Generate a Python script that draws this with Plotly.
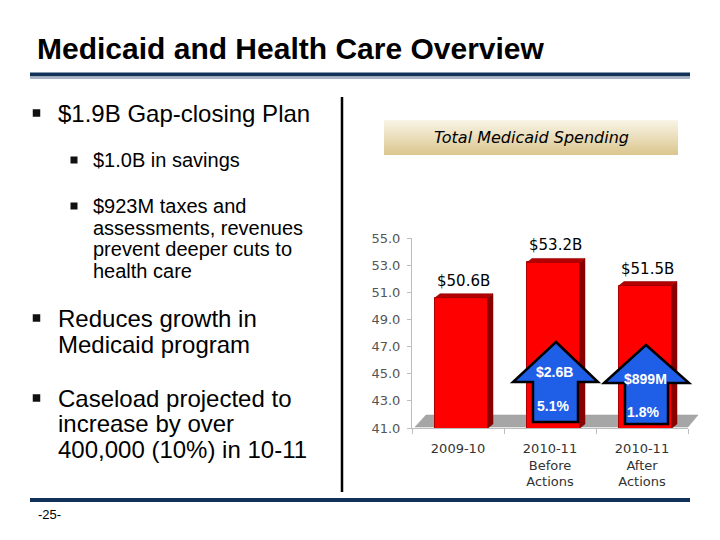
import plotly.graph_objects as go

# ---------------- data ----------------
categories = ["2009-10", "2010-11<br>Before<br>Actions", "2010-11<br>After<br>Actions"]
spending = [50.6, 53.2, 51.5]
bar_labels = ["$50.6B", "$53.2B", "$51.5B"]
y_ticks = [41.0, 43.0, 45.0, 47.0, 49.0, 51.0, 53.0, 55.0]
arrow_top = ["$2.6B", "$899M"]
arrow_bottom = ["5.1%", "1.8%"]

title = "Medicaid and Health Care Overview"
chart_title = "Total Medicaid Spending"

W, H = 720, 540


def px(x):
    return x / W


def py(y):
    return 1 - y / H


fig = go.Figure()

# ---- axes geometry (pixels) ----
X0, X1 = 412, 688      # x axis extent
Y0, Y1 = 428, 238      # y=41 at 428, y=55 at 238
YMIN, YMAX = 41, 55
upx = 92.0             # pixels per category
upy = (Y0 - Y1) / (YMAX - YMIN)

bar_off = -0.25
bar_w = 53 / upx
dx = 5 / upx
dy = 4 / upy

xs = list(range(len(spending)))

fig.add_trace(go.Bar(
    x=xs, y=spending, width=bar_w, offset=bar_off,
    marker=dict(color="#ff0000", line=dict(color="#b00000", width=1)),
    hoverinfo="skip",
))

# 3D side and top faces computed from the data
for i, v in zip(xs, spending):
    xl = i + bar_off
    xr = xl + bar_w
    fig.add_trace(go.Scatter(
        x=[xr, xr, xr + dx, xr + dx, xr], y=[YMIN, v, v + dy, YMIN + dy, YMIN],
        fill="toself", fillcolor="#8a0000", mode="lines",
        line=dict(color="#7a0000", width=0.5), hoverinfo="skip"))
    fig.add_trace(go.Scatter(
        x=[xl, xr, xr + dx, xl + dx, xl], y=[v, v, v + dy, v + dy, v],
        fill="toself", fillcolor="#b30000", mode="lines",
        line=dict(color="#8a0000", width=0.5), hoverinfo="skip"))

annotations = []
for i, v, lab in zip(xs, spending, bar_labels):
    annotations.append(dict(x=i + 0.065, y=v, xref="x", yref="y", text=lab,
                            showarrow=False, yshift=17,
                            font=dict(family="DejaVu Sans", size=15, color="#000")))

fig.update_xaxes(
    domain=[px(X0), px(X1)], range=[-0.5, 2.5], tickmode="array",
    tickvals=xs, ticktext=categories, ticks="", showgrid=False, zeroline=False,
    showline=True, linecolor="#bdbdbd", linewidth=1,
    tickfont=dict(family="DejaVu Sans", size=13, color="#333"),
    ticklabelstandoff=8,
    minor=dict(tickmode="array", tickvals=[-0.5, 0.5, 1.5, 2.5], ticks="outside",
               ticklen=5, tickcolor="#bdbdbd", showgrid=False),
    fixedrange=True, automargin=False,
)
fig.update_yaxes(
    domain=[py(Y0), py(Y1)], range=[YMIN, YMAX], tickmode="array", tickvals=y_ticks,
    tickformat=".1f", ticks="outside", ticklen=4, tickcolor="#bdbdbd",
    showline=True, linecolor="#bdbdbd", linewidth=1, showgrid=False, zeroline=False,
    tickfont=dict(family="DejaVu Sans", size=13, color="#555"),
    ticklabelstandoff=4, fixedrange=True, automargin=False,
)

shapes = []

# title rules
shapes.append(dict(type="rect", xref="paper", yref="paper", x0=px(30), x1=px(690),
                   y0=py(76.5), y1=py(72.5), fillcolor="#11315a", line=dict(width=0), layer="above"))
shapes.append(dict(type="rect", xref="paper", yref="paper", x0=px(30), x1=px(690),
                   y0=py(79), y1=py(76.5), fillcolor="#aab5c3", line=dict(width=0), layer="above"))
# footer rule
shapes.append(dict(type="rect", xref="paper", yref="paper", x0=px(30), x1=px(690),
                   y0=py(502), y1=py(498), fillcolor="#11315a", line=dict(width=0), layer="above"))
# vertical divider
shapes.append(dict(type="line", xref="paper", yref="paper", x0=px(342), x1=px(342),
                   y0=py(97), y1=py(492), line=dict(color="#000", width=2.5), layer="above"))

# header box gradient
top_c = (0xf8, 0xf4, 0xe6)
bot_c = (0xdb, 0xc6, 0x8e)
n = 35
for k in range(n):
    t = k / (n - 1)
    c = tuple(int(round(top_c[j] + (bot_c[j] - top_c[j]) * t)) for j in range(3))
    shapes.append(dict(type="rect", xref="paper", yref="paper", x0=px(384), x1=px(678),
                       y0=py(120 + k + 1.05), y1=py(120 + k), fillcolor="rgb(%d,%d,%d)" % c,
                       line=dict(width=0), layer="below"))

# floor
floor = [(415, 427), (688, 427), (698, 415), (426, 415)]
path = "M " + " L ".join("%f,%f" % (px(a), py(b)) for a, b in floor) + " Z"
shapes.append(dict(type="path", xref="paper", yref="paper", path=path,
                   fillcolor="#a6a6a6", line=dict(color="#9a9a9a", width=0.5), layer="below"))

# arrows
arrows = [
    [(556, 342), (598, 382), (578, 382), (578, 422), (533, 422), (533, 382), (513, 382)],
    [(646, 345), (689, 383), (668, 383), (668, 424), (625, 424), (625, 383), (604, 383)],
]
for poly in arrows:
    path = "M " + " L ".join("%f,%f" % (px(a), py(b)) for a, b in poly) + " Z"
    shapes.append(dict(type="path", xref="paper", yref="paper", path=path,
                       fillcolor="#1f5fe8", line=dict(color="#000", width=2.5), layer="above"))

# bullets
bullets = [(36.5, 113, 7.5), (74, 160, 7), (74, 206, 7), (36.5, 318, 7.5), (36.5, 398, 7.5)]
for cx, cy, s in bullets:
    shapes.append(dict(type="rect", xref="paper", yref="paper", x0=px(cx - s / 2), x1=px(cx + s / 2),
                       y0=py(cy + s / 2), y1=py(cy - s / 2), fillcolor="#111", line=dict(width=0)))


def text(x, y, s, size, family="Liberation Sans", color="#000", xanchor="left", **kw):
    annotations.append(dict(x=px(x), y=py(y), xref="paper", yref="paper", text=s,
                            showarrow=False, xanchor=xanchor, yanchor="middle",
                            font=dict(family=family, size=size, color=color), **kw))


text(35, 48, "<b>" + title + "</b>", 30)
text(56, 113, "$1.9B Gap-closing Plan", 24)
text(91, 160, "$1.0B in savings", 20)
for yy, s in zip([206, 228, 249, 271],
                 ["$923M taxes and", "assessments, revenues", "prevent deeper cuts to", "health care"]):
    text(91, yy, s, 20)
for yy, s in zip([318, 344], ["Reduces growth in", "Medicaid program"]):
    text(56, yy, s, 24)
for yy, s in zip([398, 423, 449], ["Caseload projected to", "increase by over", "400,000 (10%) in 10-11"]):
    text(56, yy, s, 24)
text(36, 514, "-25-", 13)

text(531, 137, "<i>" + chart_title + "</i>", 16, family="DejaVu Sans", xanchor="center")

# arrow labels
text(554, 372, "<b>" + arrow_top[0] + "</b>", 14, color="#fff", xanchor="center")
text(553, 406, "<b>" + arrow_bottom[0] + "</b>", 14, color="#fff", xanchor="center")
text(645, 379, "<b>" + arrow_top[1] + "</b>", 14, color="#fff", xanchor="center")
text(643, 412, "<b>" + arrow_bottom[1] + "</b>", 14, color="#fff", xanchor="center")

fig.update_layout(
    width=W, height=H, margin=dict(l=0, r=0, t=0, b=0, pad=0), autosize=False,
    paper_bgcolor="white", plot_bgcolor="rgba(0,0,0,0)",
    showlegend=False, shapes=shapes, annotations=annotations, bargap=0,
)

fig.write_html(
    "out.html",
    config={"responsive": False, "displayModeBar": False},
    post_script="document.body.style.margin='0';document.body.style.overflow='hidden';",
)
